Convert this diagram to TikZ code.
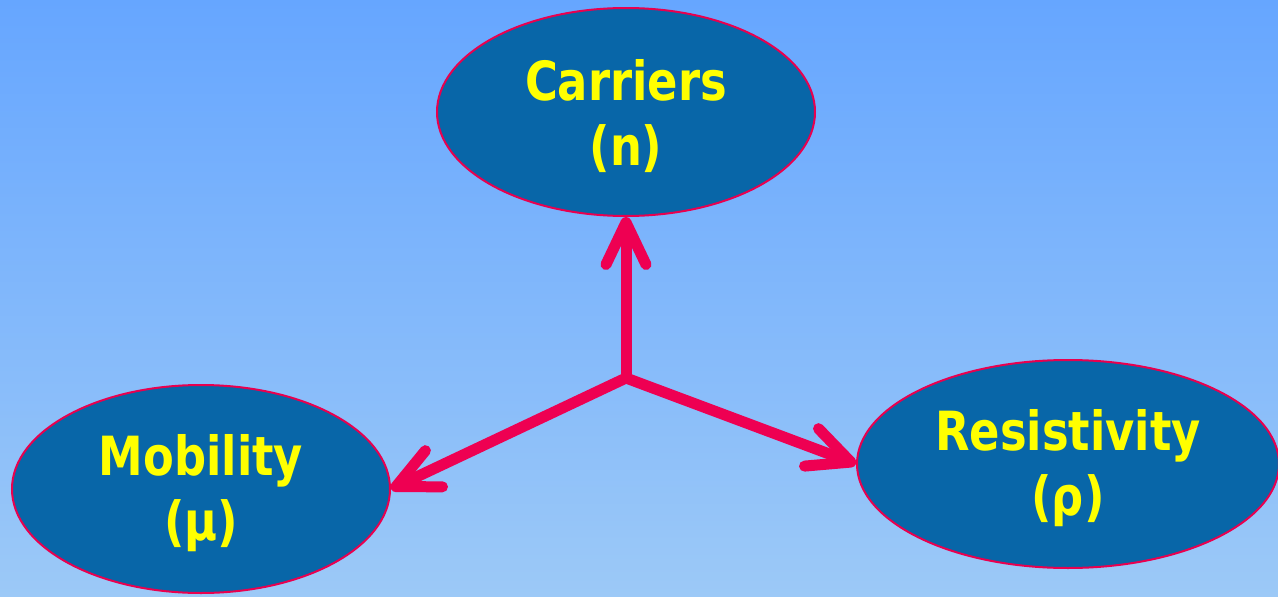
\documentclass[tikz,border=0pt]{standalone}
\usepackage{fontspec}
\setmainfont{DejaVu Sans}[FakeStretch=0.83]
\usetikzlibrary{shapes.geometric,arrows.meta}
\definecolor{skytop}{HTML}{66A6FF}
\definecolor{skybot}{HTML}{9CC9F7}
\definecolor{bubble}{HTML}{0866A8}
\definecolor{rim}{HTML}{E8004F}
\definecolor{arrowred}{HTML}{EE0052}
\definecolor{labelyellow}{HTML}{FFFF00}
\tikzset{
  bubble/.style={ellipse, fill=bubble, draw=rim, line width=2pt, inner sep=0pt,
    minimum width=378pt, minimum height=208pt},
  caption/.style={text=labelyellow, align=center, inner sep=0pt, yshift=-4pt,
    font=\bfseries\fontsize{54}{65}\selectfont},
  link/.style={draw=arrowred, line width=11pt,
    -{Straight Barb[length=42pt,width=40pt,round]}}
}
\begin{document}
\begin{tikzpicture}[x=1pt,y=-1pt]
  % sky gradient backdrop
  \shade[top color=skytop, bottom color=skybot] (0,0) rectangle (1278,597);
  \useasboundingbox (0,0) rectangle (1278,597);
  % the three quantities
  \node[bubble] (car) at (626,112) {};
  \node[bubble] (mob) at (201,489) {};
  \node[bubble, minimum width=422pt] (res) at (1068,464) {};
  \node[caption] (carT) at (car) {Carriers\\(n)};
  \node[caption] (mobT) at (mob) {Mobility\\(μ)};
  \node[caption] (resT) at (res) {Resistivity\\(ρ)};
  % arrows fanning out from the common point
  \coordinate (hub) at (626,378);
  \draw[link] (hub) -- (car.south);
  \draw[link] (hub) -- (mob.east);
  \draw[link] (hub) -- (res.west);
\end{tikzpicture}
\end{document}
